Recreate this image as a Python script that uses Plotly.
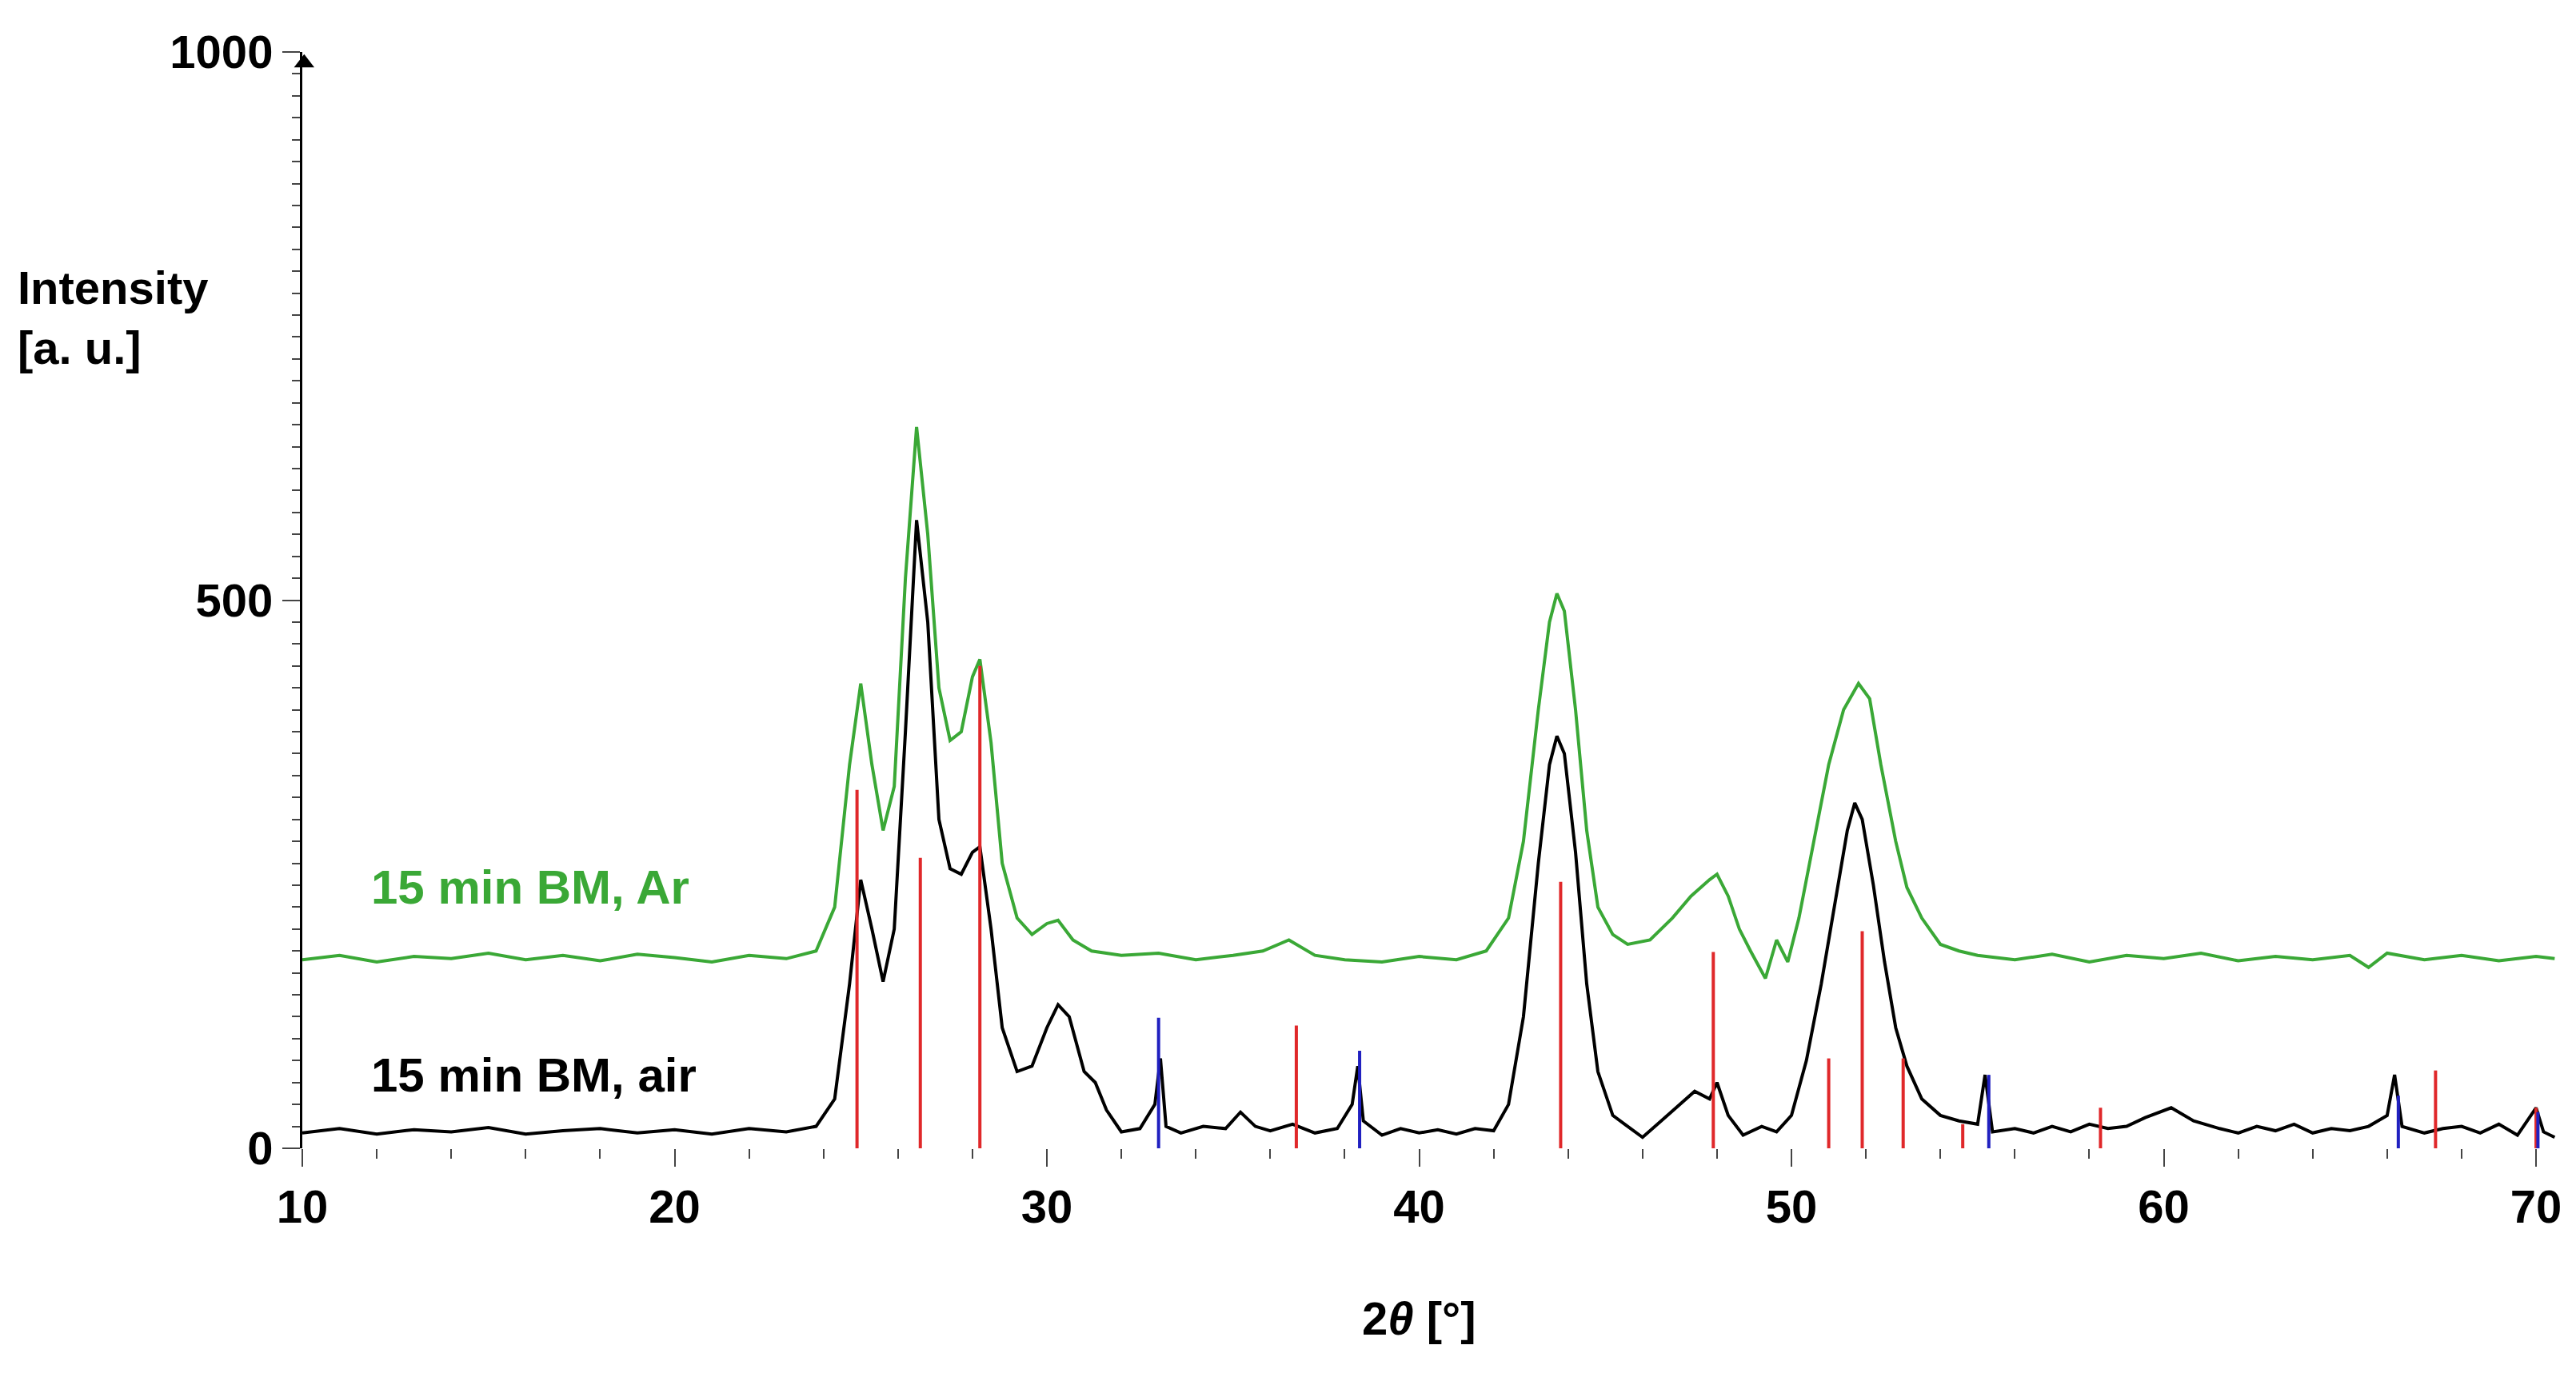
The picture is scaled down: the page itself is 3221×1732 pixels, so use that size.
import plotly.graph_objects as go

# measured patterns (2theta, intensity)
air_x = [10, 11, 12, 13, 14, 15, 16, 17, 18, 19, 20, 21, 22, 23, 23.8, 24.3, 24.7, 25.0, 25.3, 25.6, 25.9,
         26.2, 26.5, 26.8, 27.1, 27.4, 27.7, 28.0, 28.2, 28.5, 28.8, 29.2, 29.6, 30.0, 30.3, 30.6, 31.0,
         31.3, 31.6, 32.0, 32.5, 32.9, 33.05, 33.2, 33.6, 34.2, 34.8, 35.2, 35.6, 36.0, 36.6, 37.2, 37.8,
         38.2, 38.35, 38.5, 39, 39.5, 40, 40.5, 41, 41.5, 42, 42.4, 42.8, 43.2, 43.5, 43.7, 43.9, 44.2,
         44.5, 44.8, 45.2, 45.6, 46.0, 46.5, 47.0, 47.4, 47.8, 48.0, 48.3, 48.7, 49.2, 49.6, 50.0, 50.4,
         50.8, 51.2, 51.5, 51.7, 51.9, 52.2, 52.5, 52.8, 53.1, 53.5, 54.0, 54.5, 55.0, 55.2, 55.4, 56,
         56.5, 57, 57.5, 58, 58.5, 59, 59.5, 60.2, 60.8, 61.5, 62, 62.5, 63, 63.5, 64, 64.5, 65, 65.5,
         66.0, 66.2, 66.4, 67, 67.5, 68, 68.5, 69, 69.5, 70, 70.2, 70.5]
air_y = [14, 18, 13, 17, 15, 19, 13, 16, 18, 14, 17, 13, 18, 15, 20, 45, 150, 245, 200, 152, 200,
         380, 573, 480, 300, 255, 250, 270, 275, 200, 110, 70, 75, 110, 131, 120, 70,
         60, 35, 15, 18, 40, 82, 20, 14, 20, 18, 33, 20, 16, 22, 14, 18,
         40, 75, 25, 12, 18, 14, 17, 13, 18, 16, 40, 120, 260, 350, 376, 360, 270,
         150, 70, 30, 20, 10, 25, 40, 52, 45, 60, 30, 12, 20, 15, 30, 80,
         150, 230, 290, 315, 300, 240, 170, 110, 75, 45, 30, 25, 22, 67, 15, 18,
         14, 20, 15, 22, 18, 20, 28, 37, 25, 18, 14, 20, 16, 22, 14, 18, 16, 20,
         30, 67, 20, 14, 18, 20, 14, 22, 12, 37, 15, 10]

ar_x = [10, 11, 12, 13, 14, 15, 16, 17, 18, 19, 20, 21, 22, 23, 23.8, 24.3, 24.7, 25.0, 25.3, 25.6, 25.9,
        26.2, 26.5, 26.8, 27.1, 27.4, 27.7, 28.0, 28.2, 28.5, 28.8, 29.2, 29.6, 30.0, 30.3, 30.7, 31.2,
        32, 33, 34, 35, 35.8, 36.5, 37.2, 38, 39, 40, 41, 41.8, 42.4, 42.8, 43.2, 43.5, 43.7, 43.9,
        44.2, 44.5, 44.8, 45.2, 45.6, 46.2, 46.8, 47.3, 47.8, 48.0, 48.3, 48.6, 48.9, 49.3, 49.6, 49.9,
        50.2, 50.6, 51.0, 51.4, 51.8, 52.1, 52.4, 52.8, 53.1, 53.5, 54, 54.5, 55, 56, 57, 58, 59, 60,
        61, 62, 63, 64, 65, 65.5, 66, 67, 68, 69, 70, 70.5]
ar_y = [172, 176, 170, 175, 173, 178, 172, 176, 171, 177, 174, 170, 176, 173, 180, 220, 350, 424, 350, 290, 330,
        520, 658, 560, 420, 372, 380, 430, 446, 370, 260, 210, 195, 205, 208, 190, 180,
        176, 178, 172, 176, 180, 190, 176, 172, 170, 175, 172, 180, 210, 280, 400, 480, 506, 490,
        400, 290, 220, 195, 186, 190, 210, 230, 245, 250, 230, 200, 180, 155, 190, 170,
        210, 280, 350, 400, 424, 410, 350, 280, 238, 210, 186, 180, 176, 172, 177, 170, 176, 173,
        178, 171, 175, 172, 176, 165, 178, 172, 176, 171, 175, 173]

# reference reflections
red_pos = [24.9, 26.6, 28.2, 36.7, 43.8, 47.9, 51.0, 51.9, 53.0, 54.6, 58.3, 67.3, 70.0]
red_int = [327, 265, 440, 112, 243, 179, 82, 198, 82, 22, 37, 71, 37]
blue_pos = [33.0, 38.4, 55.3, 66.3, 70.05]
blue_int = [119, 89, 67, 48, 33]


def sticks(pos, inten):
    xs, ys = [], []
    for p, h in zip(pos, inten):
        xs += [p, p, None]
        ys += [0, h, None]
    return xs, ys


FONT = "Liberation Sans"
fig = go.Figure()
fig.add_trace(go.Scatter(x=ar_x, y=ar_y, mode="lines", line=dict(color="#3aa836", width=4)))
fig.add_trace(go.Scatter(x=air_x, y=air_y, mode="lines", line=dict(color="black", width=4)))
rx, ry = sticks(red_pos, red_int)
fig.add_trace(go.Scatter(x=rx, y=ry, mode="lines", line=dict(color="#e0282a", width=4)))
bx, by = sticks(blue_pos, blue_int)
fig.add_trace(go.Scatter(x=bx, y=by, mode="lines", line=dict(color="#2020c0", width=4)))
# axis arrow
fig.add_trace(go.Scatter(x=[10.05], y=[990], mode="markers", cliponaxis=False,
                         marker=dict(symbol="triangle-up", size=22, color="black")))

fig.update_xaxes(range=[10, 70.6], tickvals=[10, 20, 30, 40, 50, 60, 70], ticks="outside",
                 ticklen=22, tickwidth=2, showline=False, showgrid=False, zeroline=False,
                 minor=dict(dtick=2, ticks="outside", ticklen=12, tickwidth=2),
                 tickfont=dict(family=FONT, size=58, color="black", weight="bold"))
fig.update_yaxes(range=[0, 1000], tickvals=[0, 500, 1000], ticks="outside", ticklen=22,
                 tickwidth=2, showline=True, linecolor="black", linewidth=3, showgrid=False,
                 zeroline=False, minor=dict(dtick=20, ticks="outside", ticklen=10, tickwidth=2),
                 tickfont=dict(family=FONT, size=58, color="black", weight="bold"))

fig.add_annotation(x=11.8, y=238, text="<b>15 min BM, Ar</b>", showarrow=False, xanchor="left",
                   font=dict(family=FONT, size=60, color="#3aa836"))
fig.add_annotation(x=11.8, y=67, text="<b>15 min BM, air</b>", showarrow=False, xanchor="left",
                   font=dict(family=FONT, size=60, color="black"))
fig.add_annotation(x=-0.127, y=0.81, xref="paper", yref="paper", text="<b>Intensity<br>[a. u.]</b>",
                   showarrow=False, xanchor="left", yanchor="top", align="left",
                   font=dict(family=FONT, size=58, color="black"))
fig.add_annotation(x=0.495, y=-0.18, xref="paper", yref="paper", text="<b>2<i>θ</i> [°]</b>",
                   showarrow=False, xanchor="center", font=dict(family=FONT, size=58, color="black"))

fig.update_layout(width=3221, height=1732, showlegend=False, plot_bgcolor="white",
                  paper_bgcolor="white", margin=dict(l=370, r=30, t=57, b=304))
fig.write_html("out.html")
